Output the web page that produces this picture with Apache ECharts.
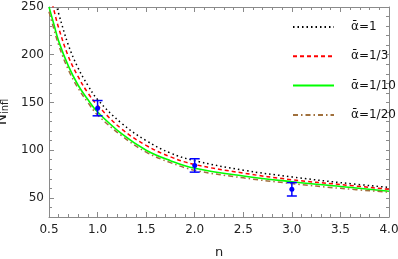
<!DOCTYPE html>
<html><head><meta charset="utf-8">
<script src="https://cdn.jsdelivr.net/npm/echarts@6/dist/echarts.min.js"></script>
<style>html,body{margin:0;padding:0;background:#fff}#c{width:398px;height:259px}</style>
</head><body><div id="c"></div>
<script>
const nValues = [0.5,0.55,0.6,0.7,0.8,0.9,1.0,1.25,1.5,1.75,2.0,2.5,3.0,3.5,4.0];
const alpha1    = [285,262,243,210,186,168,153,128,110,97,89,79,72,66,61];
const alpha1_3  = [268,247,228,198,177,160,147,122,105,93,85,76,69,64,59];
const alpha1_10 = [250,232,214,188,168,153,140,117,100,89,81,73,67,62,57];
const alpha1_20 = [245,227,210,184,165,150,137,115,98,87,79,71,65,60,56];
const seriesNames = ['\u03b1\u0304=1','\u03b1\u0304=1/3','\u03b1\u0304=1/10','\u03b1\u0304=1/20'];
const errN = [1,2,3];
const errMid = [144,84,59];
const errLow = [136,77,52];
const errHigh = [152,91,66];
const xTicks = [0.5,1.0,1.5,2.0,2.5,3.0,3.5,4.0];
const yMajor = [50,100,150,200,250];

const pair = arr => nValues.map((n,i)=>[n,arr[i]]);
const font = 'DejaVu Sans';
const frame = '#8a8a8a';
const chart = echarts.init(document.getElementById('c'), null, {renderer:'canvas'});

const lineSeries = (name, data, color, type, width) => ({
  name, type:'line', data:pair(data), smooth:0.4, showSymbol:false, symbol:'none',
  clip:true, xAxisIndex:0, yAxisIndex:0,
  lineStyle:{color, type, width}, itemStyle:{color}, z:3
});

chart.setOption({
  animation:false,
  grid:{left:49,right:9,top:7,bottom:42,containLabel:false,outerBoundsMode:'none'},
  legend:{
    orient:'vertical', left:287, top:16, itemWidth:41, itemHeight:10, itemGap:17.3,
    itemStyle:{opacity:0},
    textStyle:{fontFamily:font,fontSize:12,color:'#111',padding:[0,0,0,12]},
    data:seriesNames
  },
  xAxis:[
    {type:'value',min:0.5,max:4,interval:0.5,position:'bottom',
     name:'n',nameLocation:'middle',nameGap:29,nameTextStyle:{fontFamily:font,fontSize:13,color:'#222'},
     axisLine:{show:true,lineStyle:{color:frame}},
     axisTick:{show:true,inside:true,length:5,lineStyle:{color:frame}},
     minorTick:{show:true,splitNumber:5,length:3,lineStyle:{color:frame}},
     splitLine:{show:false},
     axisLabel:{fontFamily:font,fontSize:12,color:'#222',margin:7,formatter:v=>v.toFixed(1)}},
    {type:'value',min:0.5,max:4,interval:0.5,position:'top',
     axisLine:{show:true,lineStyle:{color:frame}},
     axisTick:{show:true,inside:true,length:5,lineStyle:{color:frame}},
     minorTick:{show:true,splitNumber:5,length:3,lineStyle:{color:frame}},
     splitLine:{show:false},axisLabel:{show:false}}
  ],
  yAxis:[
    {type:'value',min:30,max:250,interval:10,position:'left',
     name:'{a|N}{b|infl}',nameLocation:'middle',nameGap:32,nameRotate:90,
     nameTextStyle:{rich:{a:{fontFamily:font,fontSize:15,color:'#222'},b:{fontFamily:font,fontSize:10,color:'#222',padding:[6,0,0,0]}}},
     axisLine:{show:true,lineStyle:{color:frame}},
     axisTick:{show:true,inside:true,length:5,customValues:yMajor,lineStyle:{color:frame}},
     splitLine:{show:false},
     axisLabel:{fontFamily:font,fontSize:12,color:'#222',margin:5,customValues:yMajor}},
    {type:'value',min:30,max:250,interval:10,position:'left',
     axisLine:{show:false},
     axisTick:{show:true,inside:true,length:3,lineStyle:{color:frame}},
     splitLine:{show:false},axisLabel:{show:false}},
    {type:'value',min:30,max:250,interval:10,position:'right',
     axisLine:{show:true,lineStyle:{color:frame}},
     axisTick:{show:true,inside:true,length:3,lineStyle:{color:frame}},
     splitLine:{show:false},axisLabel:{show:false}}
  ],
  series:[
    lineSeries(seriesNames[0],alpha1,'#000000',[1.5,3],1.5),
    lineSeries(seriesNames[1],alpha1_3,'#ff0000',[4,3],1.5),
    lineSeries(seriesNames[2],alpha1_10,'#00ff00','solid',1.6),
    lineSeries(seriesNames[3],alpha1_20,'#a0703c',[5,3,1.5,3],1.5),
    {type:'custom',name:'err',xAxisIndex:0,yAxisIndex:0,z:5,
     data:errN.map((n,i)=>[n,errLow[i],errHigh[i],errMid[i]]),
     renderItem:(params,api)=>{
       const lo=api.coord([api.value(0),api.value(1)]);
       const hi=api.coord([api.value(0),api.value(2)]);
       const md=api.coord([api.value(0),api.value(3)]);
       const w=5, st={stroke:'#0000ff',lineWidth:1.5};
       return {type:'group',children:[
         {type:'line',shape:{x1:lo[0],y1:lo[1],x2:hi[0],y2:hi[1]},style:st},
         {type:'line',shape:{x1:lo[0]-w,y1:lo[1],x2:lo[0]+w,y2:lo[1]},style:st},
         {type:'line',shape:{x1:hi[0]-w,y1:hi[1],x2:hi[0]+w,y2:hi[1]},style:st},
         {type:'circle',shape:{cx:md[0],cy:md[1],r:2.5},style:{fill:'#0000ff'}}
       ]};
     }}
  ]
});
</script></body></html>
